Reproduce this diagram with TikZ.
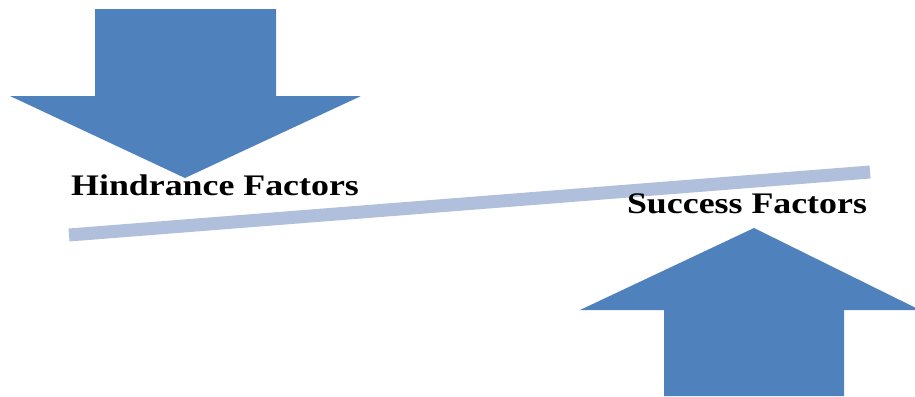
\documentclass[tikz,border=0pt]{standalone}
\usepackage{fontspec}
\setmainfont{Liberation Serif}
\newfontfamily\factorfont[FakeStretch=1.2]{Liberation Serif}
\definecolor{arrowblue}{HTML}{4F81BD}
\definecolor{barblue}{HTML}{B0C0DC}
\tikzset{
	bigarrow/.style={fill=arrowblue,draw=none},
	factor/.style={font=\factorfont\fontsize{17}{20}\selectfont\bfseries,anchor=base,inner sep=0pt}
}
\begin{document}
\begin{tikzpicture}[x=0.02cm,y=-0.02cm]
	%\draw[step=50,gray!15] (0,0) grid (915,396); %Hilfsgitter
	\useasboundingbox (0,0) rectangle (915,396);
	
	\fill[bigarrow] (95,9) -- (276,9) -- (276,96) -- (361,96) -- (185,178) -- (10,96) -- (95,96) -- cycle;
	\fill[bigarrow] (664,396) -- (664,310) -- (580,310) -- (754,228) -- (920,310) -- (844,310) -- (844,396) -- cycle;
	
	\coordinate (L) at (69,235); \coordinate (R) at (870,172);
	\draw[barblue,line width=13*0.02cm] (L) -- (R);
	
	\node[factor] (hindrance) at (215,195) {Hindrance Factors};
	\node[factor] (success) at (747,213) {Success Factors};
\end{tikzpicture}
\end{document}
